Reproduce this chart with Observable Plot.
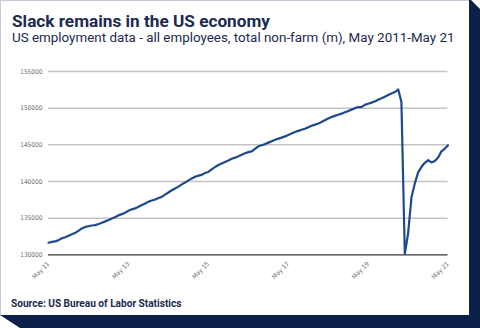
<!DOCTYPE html>
<html><head><meta charset="utf-8">
<script src="https://cdn.jsdelivr.net/npm/d3@7"></script>
<script src="https://cdn.jsdelivr.net/npm/@observablehq/plot@0.6"></script>
<style>
html,body{margin:0;padding:0;background:#fff;}
#wrap{position:relative;width:480px;height:328px;overflow:hidden;background:#fff;font-family:Roboto,sans-serif;color:#1b2a4e;}
#card{position:absolute;left:0;top:0;width:470px;height:316px;box-sizing:border-box;border:1.5px solid #c5cbd8;background:#fff;}
#rband{position:absolute;left:469px;top:0;width:11px;height:328px;background:#0b2149;clip-path:polygon(0 0,2px 0,11px 9px,11px 100%,0 100%);}
#bband{position:absolute;left:0;top:315px;width:480px;height:13px;background:#0b2149;clip-path:polygon(0 0,100% 0,100% 100%,20px 100%);}
.t{position:absolute;white-space:nowrap;}
#title{left:12px;top:12.8px;font-size:17.2px;line-height:17.2px;font-weight:700;}
#sub{left:12px;top:31.4px;font-size:13.4px;line-height:13.4px;font-weight:400;}
#src{left:11px;top:299.2px;font-size:10.1px;line-height:10.1px;font-weight:700;}
#chart{position:absolute;left:0;top:50px;}
</style></head>
<body>
<div id="wrap">
  <div id="card"></div>
  <div id="rband"></div>
  <div id="bband"></div>
  <div class="t" id="title">Slack remains in the US economy</div>
  <div class="t" id="sub">US employment data - all employees, total non-farm (m), May 2011-May 21</div>
  <div class="t" id="src">Source: US Bureau of Labor Statistics</div>
  <div id="chart"></div>
</div>
<script>
// Monthly total non-farm employment (thousands), May 2011 .. May 2021
const startMonth = "2011-05-01";
const employment = [
  131650,131760,131820,132000,132250,132400,132600,132800,133000,133300,133600,133800,
  133900,134000,134050,134200,134380,134560,134750,134950,135150,135380,135550,135750,
  136000,136200,136330,136550,136800,137000,137250,137400,137550,137750,137900,138200,
  138500,138800,139050,139300,139600,139850,140150,140420,140650,140800,140900,141150,
  141300,141650,141950,142250,142450,142650,142850,143100,143250,143450,143650,143850,
  144000,144100,144450,144800,144950,145100,145300,145500,145700,145850,145980,146150,
  146350,146550,146750,146900,147050,147200,147400,147600,147750,147900,148100,148350,
  148600,148800,148950,149100,149250,149450,149600,149800,150000,150150,150150,150450,
  150600,150750,150900,151150,151350,151550,151800,152000,152200,152550,150850,130150,
  132900,137850,139700,141250,142000,142550,142900,142600,142800,143300,144100,144450,
  144950
];
const yTicks = [130000,135000,140000,145000,150000,155000];
const xTickDates = ["2011-05-01","2013-05-01","2015-05-01","2017-05-01","2019-05-01","2021-05-01"];
const xTickLabels = ["May 11","May 13","May 15","May 17","May 19","May 21"];

const start = new Date(startMonth);
const data = employment.map((v, i) => ({date: d3.utcMonth.offset(start, i), value: v}));
const tickDates = xTickDates.map(d => new Date(d));
const labelOf = new Map(tickDates.map((d, i) => [+d, xTickLabels[i]]));

const chart = Plot.plot({
  width: 470,
  height: 245,
  marginTop: 21,
  marginBottom: 40.7,
  marginLeft: 48,
  marginRight: 22.5,
  style: {fontFamily: "'DejaVu Sans Condensed','DejaVu Sans',sans-serif", fontSize: "6.5px", color: "#6e6e6e", background: "transparent"},
  x: {type: "utc", domain: [tickDates[0], tickDates[tickDates.length - 1]], ticks: tickDates, tickFormat: d => labelOf.get(+d), tickRotate: -45, tickSize: 0, tickPadding: 8, label: null},
  y: {domain: [130000, 155000], ticks: yTicks, tickFormat: d3.format("d"), tickSize: 0, tickPadding: 6, label: null},
  marks: [
    Plot.ruleY(yTicks.filter(d => d !== 130000), {stroke: "#c4c4c4", strokeWidth: 1.5}),
    Plot.ruleY([130000], {stroke: "#333", strokeWidth: 1.2}),
    Plot.line(data, {x: "date", y: "value", stroke: "#1d4a8c", strokeWidth: 2.2, curve: "linear"})
  ]
});
document.getElementById("chart").appendChild(chart);
</script>
</body></html>
